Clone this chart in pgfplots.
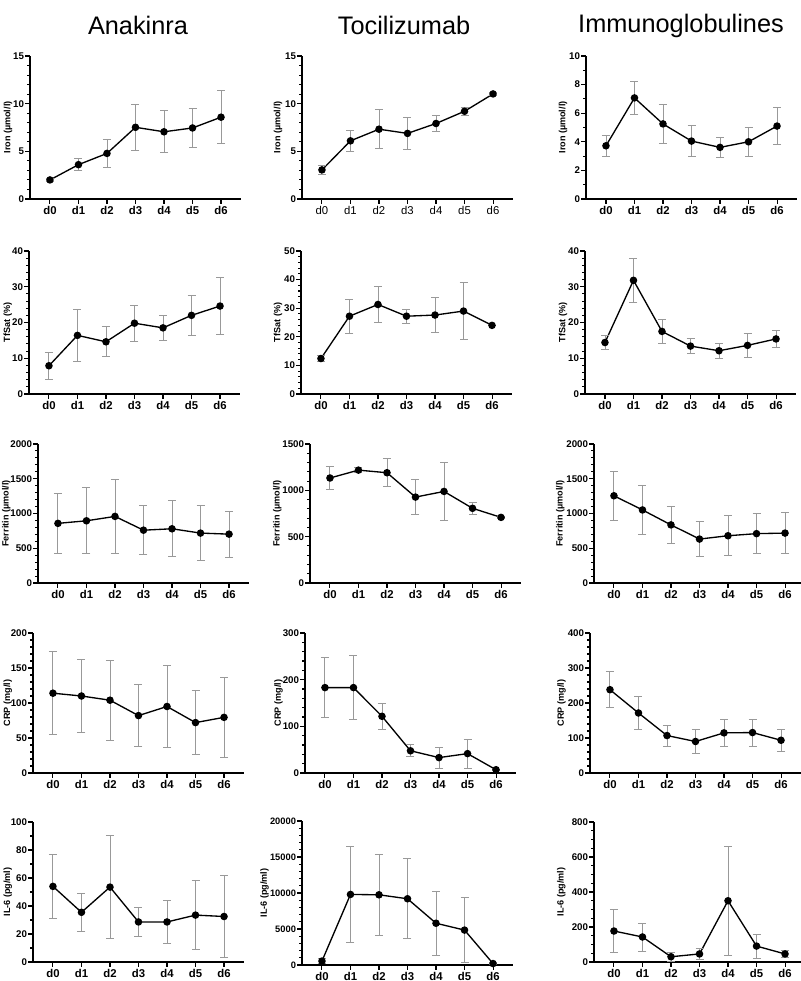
\documentclass[border=0pt]{standalone}
\usepackage{fontspec}
\setmainfont{Liberation Sans}
\usepackage{pgfplots}
\pgfplotsset{compat=1.18}
% 1 px of the reference = 0.75pt
\pgfplotsset{
  pnl/.style={
    scale only axis, width=158.25pt,
    xmin=-0.7, xmax=6.7, ymin=0,
    axis x line*=bottom, axis y line*=left,
    axis line style={line width=0.9pt, black},
    xtick={0,...,6}, xticklabels={d0,d1,d2,d3,d4,d5,d6},
    minor x tick num=0,
    tick align=outside,
    tick style={line width=0.8pt, black},
    major tick length=3.5pt, minor tick length=2pt,
    xticklabel style={font=\bfseries\fontsize{8.5}{10}\selectfont, inner sep=1.5pt},
    yticklabel style={font=\bfseries\fontsize{7.3}{9}\selectfont, inner sep=0.8pt},
    ylabel style={font=\bfseries\fontsize{6.8}{8}\selectfont, inner sep=0.5pt},
    /pgf/number format/assume math mode=true,
    /pgf/number format/1000 sep={},
    scaled y ticks=false,
    clip=false,
  },
  % y label at a fixed distance left of the y axis (fraction of width)
  yl/.style={ylabel style={at={(axis description cs:#1,0.5)}, anchor=center}},
  ser/.style={black, line width=1pt, mark=*, mark size=2.3pt,
    mark options={solid, fill=black},
    error bars/.cd, y dir=both, y explicit,
    error bar style={line width=0.7pt, black!40},
    error mark options={rotate=90, mark size=3pt, line width=0.7pt, black!40}},
}
\begin{document}
\begin{tikzpicture}
\path[use as bounding box] (0,0) rectangle (600pt,735.75pt);
\node[font=\fontsize{19}{22}\selectfont] at (103.5pt,717pt) {Anakinra};
\node[font=\fontsize{19}{22}\selectfont] at (303pt,717pt) {Tocilizumab};
\node[font=\fontsize{19}{22}\selectfont] at (510.75pt,716pt) {Immunoglobulines};

% ---- row 1: Iron
\begin{axis}[pnl, at={(22.5pt,586.5pt)}, height=107.25pt, yl=-0.104,
  ymax=15, ytick distance=5, minor y tick num=4, ylabel={Iron (µmol/l)}]
\addplot+[ser] coordinates {(0,2.0)+-(0,0.2) (1,3.6)+-(0,0.65) (2,4.78)+-(0,1.45) (3,7.52)+-(0,2.38) (4,7.05)+-(0,2.2) (5,7.45)+-(0,2.0) (6,8.58)+-(0,2.78)};
\end{axis}
\begin{axis}[pnl, at={(226.5pt,586.5pt)}, height=107.25pt, yl=-0.114,
  xticklabel style={font=\fontsize{8.5}{10}\selectfont},
  ymax=15, ytick distance=5, minor y tick num=4, ylabel={Iron (µmol/l)}]
\addplot+[ser] coordinates {(0,3.05)+-(0,0.5) (1,6.1)+-(0,1.1) (2,7.32)+-(0,2.02) (3,6.88)+-(0,1.72) (4,7.92)+-(0,0.85) (5,9.2)+-(0,0.42) (6,11.02)+-(0,0.12)};
\end{axis}
\begin{axis}[pnl, at={(439.5pt,586.5pt)}, height=107.25pt, yl=-0.109,
  ymax=10, ytick distance=2, minor y tick num=1, ylabel={Iron (µmol/l)}]
\addplot+[ser] coordinates {(0,3.72)+-(0,0.72) (1,7.07)+-(0,1.17) (2,5.25)+-(0,1.35) (3,4.05)+-(0,1.09) (4,3.61)+-(0,0.69) (5,4.0)+-(0,1.0) (6,5.1)+-(0,1.28)};
\end{axis}

% ---- row 2: TfSat
\begin{axis}[pnl, at={(21.75pt,440.25pt)}, height=107.25pt, yl=-0.1,
  ymax=40, ytick distance=10, minor y tick num=4, ylabel={TfSat (\%)}]
\addplot+[ser] coordinates {(0,7.9)+-(0,3.85) (1,16.4)+-(0,7.3) (2,14.6)+-(0,4.2) (3,19.8)+-(0,5.0) (4,18.5)+-(0,3.5) (5,22.0)+-(0,5.65) (6,24.6)+-(0,8.0)};
\end{axis}
\begin{axis}[pnl, at={(225.75pt,440.25pt)}, height=107.25pt, yl=-0.109,
  ymax=50, ytick distance=10, minor y tick num=4, ylabel={TfSat (\%)}]
\addplot+[ser] coordinates {(0,12.4)+-(0,0.95) (1,27.2)+-(0,5.9) (2,31.3)+-(0,6.45) (3,27.2)+-(0,2.45) (4,27.6)+-(0,6.15) (5,29.0)+-(0,10.0) (6,24.0)+-(0,0)};
\end{axis}
\begin{axis}[pnl, at={(438.75pt,440.25pt)}, height=107.25pt, yl=-0.104,
  ymax=40, ytick distance=10, minor y tick num=4, ylabel={TfSat (\%)}]
\addplot+[ser] coordinates {(0,14.4)+-(0,2.05) (1,31.8)+-(0,6.25) (2,17.5)+-(0,3.45) (3,13.4)+-(0,2.2) (4,12.1)+-(0,2.1) (5,13.6)+-(0,3.45) (6,15.4)+-(0,2.5)};
\end{axis}

% ---- row 3: Ferritin
\begin{axis}[pnl, at={(28.5pt,298.5pt)}, height=104.25pt, yl=-0.15,
  ymax=2000, ytick distance=500, minor y tick num=4, ylabel={Ferritin (µmol/l)}]
\addplot+[ser] coordinates {(0,858)+-(0,432) (1,895)+-(0,475) (2,958)+-(0,532) (3,760)+-(0,354) (4,780)+-(0,405) (5,718)+-(0,395) (6,703)+-(0,333)};
\end{axis}
\begin{axis}[pnl, at={(232.5pt,298.5pt)}, height=104.25pt, yl=-0.155,
  ymax=1500, ytick distance=500, minor y tick num=4, ylabel={Ferritin (µmol/l)}]
\addplot+[ser] coordinates {(0,1133)+-(0,123) (1,1218)+-(0,25) (2,1190)+-(0,150) (3,927)+-(0,188) (4,988)+-(0,315) (5,806)+-(0,65) (6,708)+-(0,10)};
\end{axis}
\begin{axis}[pnl, at={(445.5pt,298.5pt)}, height=104.25pt, yl=-0.16,
  ymax=2000, ytick distance=500, minor y tick num=4, ylabel={Ferritin (µmol/l)}]
\addplot+[ser] coordinates {(0,1255)+-(0,350) (1,1051)+-(0,347) (2,836)+-(0,270) (3,632)+-(0,256) (4,680)+-(0,285) (5,710)+-(0,292) (6,718)+-(0,294)};
\end{axis}

% ---- row 4: CRP
\begin{axis}[pnl, at={(24.75pt,156pt)}, height=105pt, yl=-0.12,
  ymax=200, ytick distance=50, minor y tick num=4, ylabel={CRP (mg/l)}]
\addplot+[ser] coordinates {(0,114)+-(0,59) (1,110)+-(0,52) (2,104)+-(0,57) (3,82)+-(0,44) (4,95)+-(0,58) (5,72)+-(0,46) (6,79.5)+-(0,57)};
\end{axis}
\begin{axis}[pnl, at={(228.75pt,156pt)}, height=105pt, yl=-0.125,
  ymax=300, ytick distance=100, minor y tick num=4, ylabel={CRP (mg/l)}]
\addplot+[ser] coordinates {(0,183)+-(0,65) (1,183)+-(0,69) (2,121.5)+-(0,27.7) (3,47.6)+-(0,12.8) (4,33)+-(0,22.4) (5,41.5)+-(0,31.3) (6,7)+-(0,1)};
\end{axis}
\begin{axis}[pnl, at={(442.5pt,156pt)}, height=105pt, yl=-0.135,
  ymax=400, ytick distance=100, minor y tick num=4, ylabel={CRP (mg/l)}]
\addplot+[ser] coordinates {(0,238)+-(0,52) (1,171.5)+-(0,47.5) (2,107)+-(0,30) (3,90)+-(0,34) (4,114.7)+-(0,38) (5,115.5)+-(0,38.5) (6,93.5)+-(0,31.7)};
\end{axis}

% ---- row 5: IL-6
\begin{axis}[pnl, at={(24.75pt,14.25pt)}, height=105pt, yl=-0.12,
  ymax=100, ytick distance=20, minor y tick num=1, ylabel={IL-6 (pg/ml)}]
\addplot+[ser] coordinates {(0,54)+-(0,23) (1,35.5)+-(0,13.5) (2,53.5)+-(0,37) (3,28.6)+-(0,10.7) (4,28.6)+-(0,15.5) (5,33.5)+-(0,24.5) (6,32.5)+-(0,29)};
\end{axis}
\begin{axis}[pnl, at={(226.5pt,12pt)}, height=108pt, yl=-0.178,
  yticklabel style={font=\bfseries\fontsize{7}{9}\selectfont},
  ymax=20000, ytick distance=5000, minor y tick num=4, ylabel={IL-6 (pg/ml)}]
\addplot+[ser] coordinates {(0,550)+-(0,300) (1,9800)+-(0,6700) (2,9750)+-(0,5600) (3,9200)+-(0,5550) (4,5800)+-(0,4450) (5,4850)+-(0,4550) (6,200)+-(0,100)};
\end{axis}
\begin{axis}[pnl, at={(445.5pt,14.25pt)}, height=105pt, yl=-0.155,
  ymax=800, ytick distance=200, minor y tick num=3, ylabel={IL-6 (pg/ml)}]
\addplot+[ser] coordinates {(0,177)+-(0,125) (1,143)+-(0,80) (2,30)+-(0,25) (3,46)+-(0,33) (4,350)+-(0,313) (5,91)+-(0,68) (6,46)+-(0,22)};
\end{axis}
\end{tikzpicture}
\end{document}
